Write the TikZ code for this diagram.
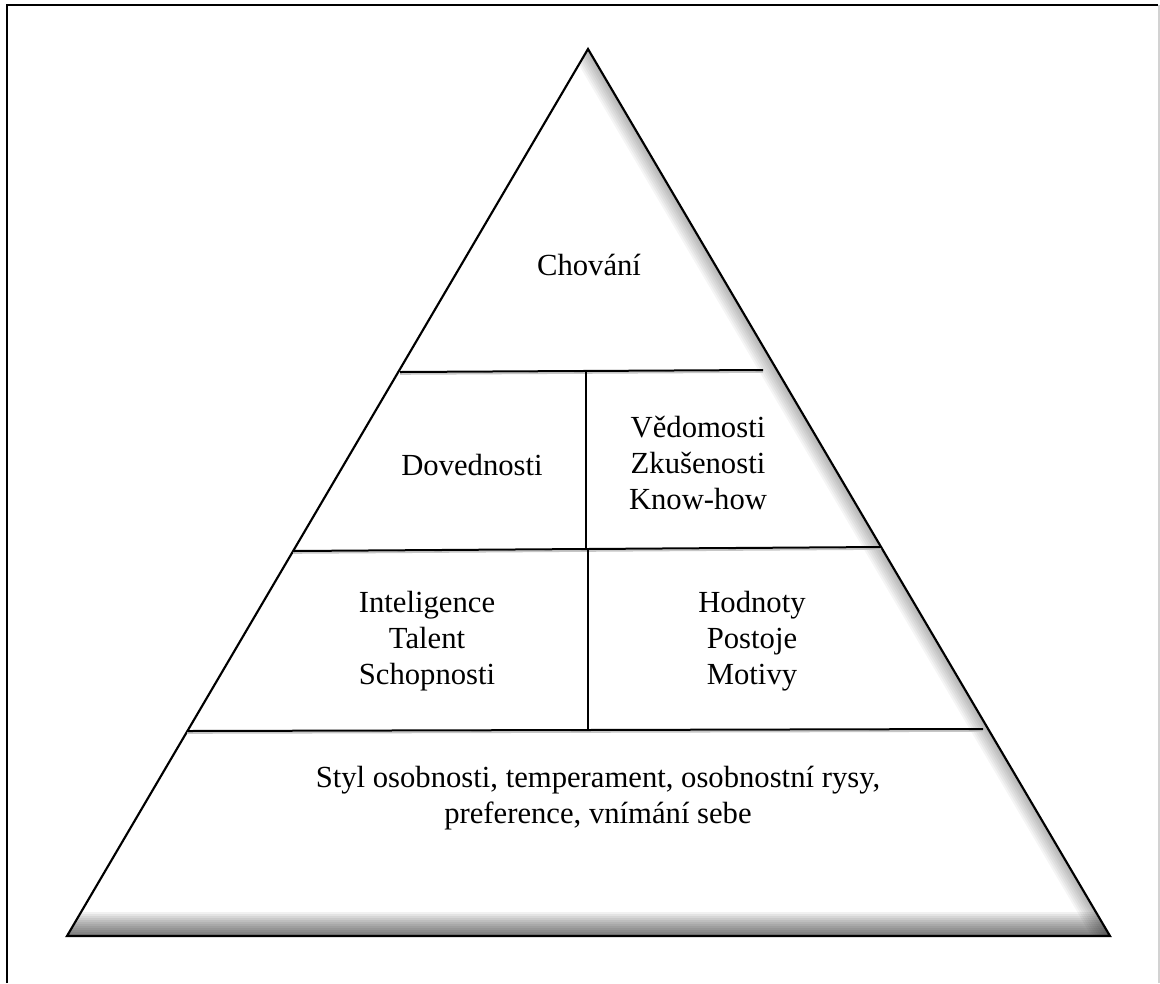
\documentclass[tikz,border=0pt]{standalone}
\usepackage{fontspec}
\setmainfont{Liberation Serif}
\usetikzlibrary{calc}
\begin{document}
\begin{tikzpicture}[x=0.75pt,y=-0.75pt,
  edge/.style={line width=1.6pt,black,line join=miter},
  divider/.style={line width=1.5pt,black},
  label/.style={align=center,font=\fontsize{23}{26.8}\selectfont,inner sep=0pt},
  framed/.style={line width=1.6pt,black}]
\useasboundingbox (0,0) rectangle (1160,983);

% outer frame (open at the bottom)
\draw[framed] (7,983) -- (7,5) -- (1158,5);
\draw[gray!35,line width=0.8pt] (1159,5) -- (1159,983);

% pyramid corners
\coordinate (A) at (588,49);
\coordinate (L) at (67,936);
\coordinate (R) at (1110,936);

% white body with a soft inner shadow along the base and the right side
\fill[white] (A) -- (L) -- (R) -- cycle;
\begin{scope}
  \clip (A) -- (L) -- (R) -- cycle;
  \foreach \w in {4,8,...,48}
    \draw[black,opacity=0.055,line width=\w*0.75pt] ($(L)+(-40,0)$) -- ($(R)+(40,0)$);
  \foreach \w in {4,8,...,32}
    \draw[black,opacity=0.04,line width=\w*0.75pt] (A) -- (R);
\end{scope}
\draw[edge] (A) -- (L) -- (R) -- cycle;

% tier dividers
\coordinate (h1l) at (400,372);  \coordinate (h1r) at (763,370);
\coordinate (h2l) at (293,551);  \coordinate (h2r) at (881,547);
\coordinate (h3l) at (187,731);  \coordinate (h3r) at (983,729);
\coordinate (v1t) at (586,371);  \coordinate (v1b) at (586,549);
\coordinate (v2t) at (588,549);  \coordinate (v2b) at (588,730);

\foreach \a/\b in {h1l/h1r,h2l/h2r,h3l/h3r}
  \draw[gray!45,line width=1.2pt] ($(\a)+(0,2)$) -- ($(\b)+(0,2)$);
\draw[divider] (h1l) -- (h1r);
\draw[divider] (h2l) -- (h2r);
\draw[divider] (h3l) -- (h3r);
\draw[divider] (v1t) -- (v1b);
\draw[divider] (v2t) -- (v2b);

% tier labels
\node[label] (chov) at (589,265) {Chování};
\node[label] (dov)  at (472,465) {Dovednosti};
\node[label] (ved)  at (698,463) {Vědomosti\\Zkušenosti\\Know-how};
\node[label] (intl) at (427,641) {Inteligence\\Talent\\Schopnosti};
\node[label] (hod)  at (752,641) {Hodnoty\\Postoje\\Motivy};
\node[label] (styl) at (598,798) {Styl osobnosti, temperament, osobnostní rysy,\\preference, vnímání sebe};
\end{tikzpicture}
\end{document}
